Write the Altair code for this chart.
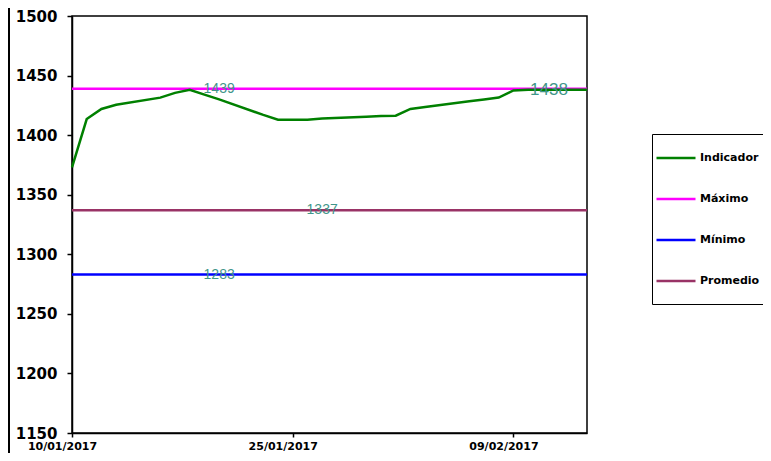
import altair as alt
import pandas as pd

# ---- data ----
dates = ["2017-01-10", "2017-01-11", "2017-01-12", "2017-01-13", "2017-01-16",
         "2017-01-17", "2017-01-18", "2017-01-19", "2017-01-20", "2017-01-23",
         "2017-01-24", "2017-01-25", "2017-01-26", "2017-01-27", "2017-01-30",
         "2017-01-31", "2017-02-01", "2017-02-02", "2017-02-03", "2017-02-06",
         "2017-02-07", "2017-02-08", "2017-02-09", "2017-02-10", "2017-02-13",
         "2017-02-14"]
values = [1373, 1413.5, 1422, 1425.5, 1431.5, 1435.5, 1438, 1434, 1430, 1417,
          1413, 1413, 1413, 1414, 1415.5, 1416, 1416.3, 1422, 1423.6, 1428.4,
          1430, 1431.5, 1437.5, 1438, 1438, 1438]

series_names = ["Indicador", "Máximo", "Mínimo", "Promedio"]
series_colors = ["#008000", "#ff00ff", "#0000ff", "#993366"]

ref_names = ["Máximo", "Mínimo", "Promedio"]
ref_values = [1439, 1283, 1337]

label_dates = ["2017-01-20T00:00:00Z", "2017-01-27T00:00:00Z",
               "2017-01-20T00:00:00Z", "2017-02-11T10:00:00Z"]
label_values = [1439, 1337, 1283, 1438]
label_texts = ["1439", "1337", "1283", "1438"]
label_sizes = [14, 14, 14, 17]

y_ticks = [1150, 1200, 1250, 1300, 1350, 1400, 1450, 1500]

df = pd.DataFrame({"fecha": [d + "T00:00:00Z" for d in dates],
                   "valor": values, "serie": "Indicador"})
ref = pd.DataFrame({"serie": ref_names, "valor": ref_values})
lab = pd.DataFrame({"fecha": label_dates, "valor": label_values,
                    "texto": label_texts, "tam": label_sizes})

d0 = alt.DateTime(year=2017, month=1, date=10, utc=True)
d1 = alt.DateTime(year=2017, month=2, date=14, utc=True)
tick_dates = [d0,
              alt.DateTime(year=2017, month=1, date=25, utc=True),
              alt.DateTime(year=2017, month=2, date=9, utc=True)]

x_enc = alt.X("fecha:T",
              scale=alt.Scale(type="utc", domain=[d0, d1]),
              axis=alt.Axis(title=None, values=tick_dates,
                            labelExpr="utcFormat(datum.value, '%d/%m/%Y')",
                            labelFontSize=11, tickSize=4,
                            labelPadding=3, labelOffset=-10, labelFlush=False,
                            labelOverlap=False, grid=False))
y_scale = alt.Scale(domain=[1150, 1500], nice=False, zero=False)
y_enc = alt.Y("valor:Q", scale=y_scale,
              axis=alt.Axis(title=None, values=y_ticks, format="d",
                            labelFontSize=15, tickSize=5, labelPadding=10,
                            grid=False))

color = alt.Color(
    "serie:N",
    scale=alt.Scale(domain=series_names, range=series_colors),
    legend=alt.Legend(title=" ", titleOrient="bottom", titleFontSize=1,
                      titlePadding=14,
                      orient="none", legendX=580, legendY=118,
                      symbolType="stroke", symbolSize=1521,
                      symbolStrokeWidth=2.5, labelFont="DejaVu Sans",
                      labelFontWeight="bold", labelFontSize=11,
                      labelColor="black", strokeColor="black",
                      fillColor="white", padding=3, rowPadding=15,
                      labelOffset=3))

rules = alt.Chart(ref).mark_rule(strokeWidth=2.5).encode(y=y_enc, color=color)
line = alt.Chart(df).mark_line(strokeWidth=2.5).encode(x=x_enc, y=y_enc,
                                                         color=color)
texts = alt.Chart(lab).mark_text(font="Liberation Sans", color="#3f968a",
                                 baseline="middle", align="center").encode(
    x="fecha:T", y="valor:Q", text="texto:N",
    size=alt.Size("tam:Q", scale=None, legend=None))
border = alt.Chart(ref).mark_rule(color="black", strokeWidth=2).encode(
    x=alt.value(-63), y=alt.value(-8), y2=alt.value(437))

chart = alt.layer(rules, line, texts, border).properties(
    width=515, height=417,
    autosize=alt.AutoSizeParams(type="none"),
    padding={"left": 64, "top": 8, "right": 176, "bottom": 20},
).configure_view(stroke="black", strokeWidth=1.5).configure_axis(
    domainColor="black", domainWidth=1.5, tickColor="black", tickWidth=1.5,
    labelFont="DejaVu Sans", labelFontWeight="bold", labelColor="black")

chart.save("out.html", embed_options={"renderer": "svg", "actions": False})
